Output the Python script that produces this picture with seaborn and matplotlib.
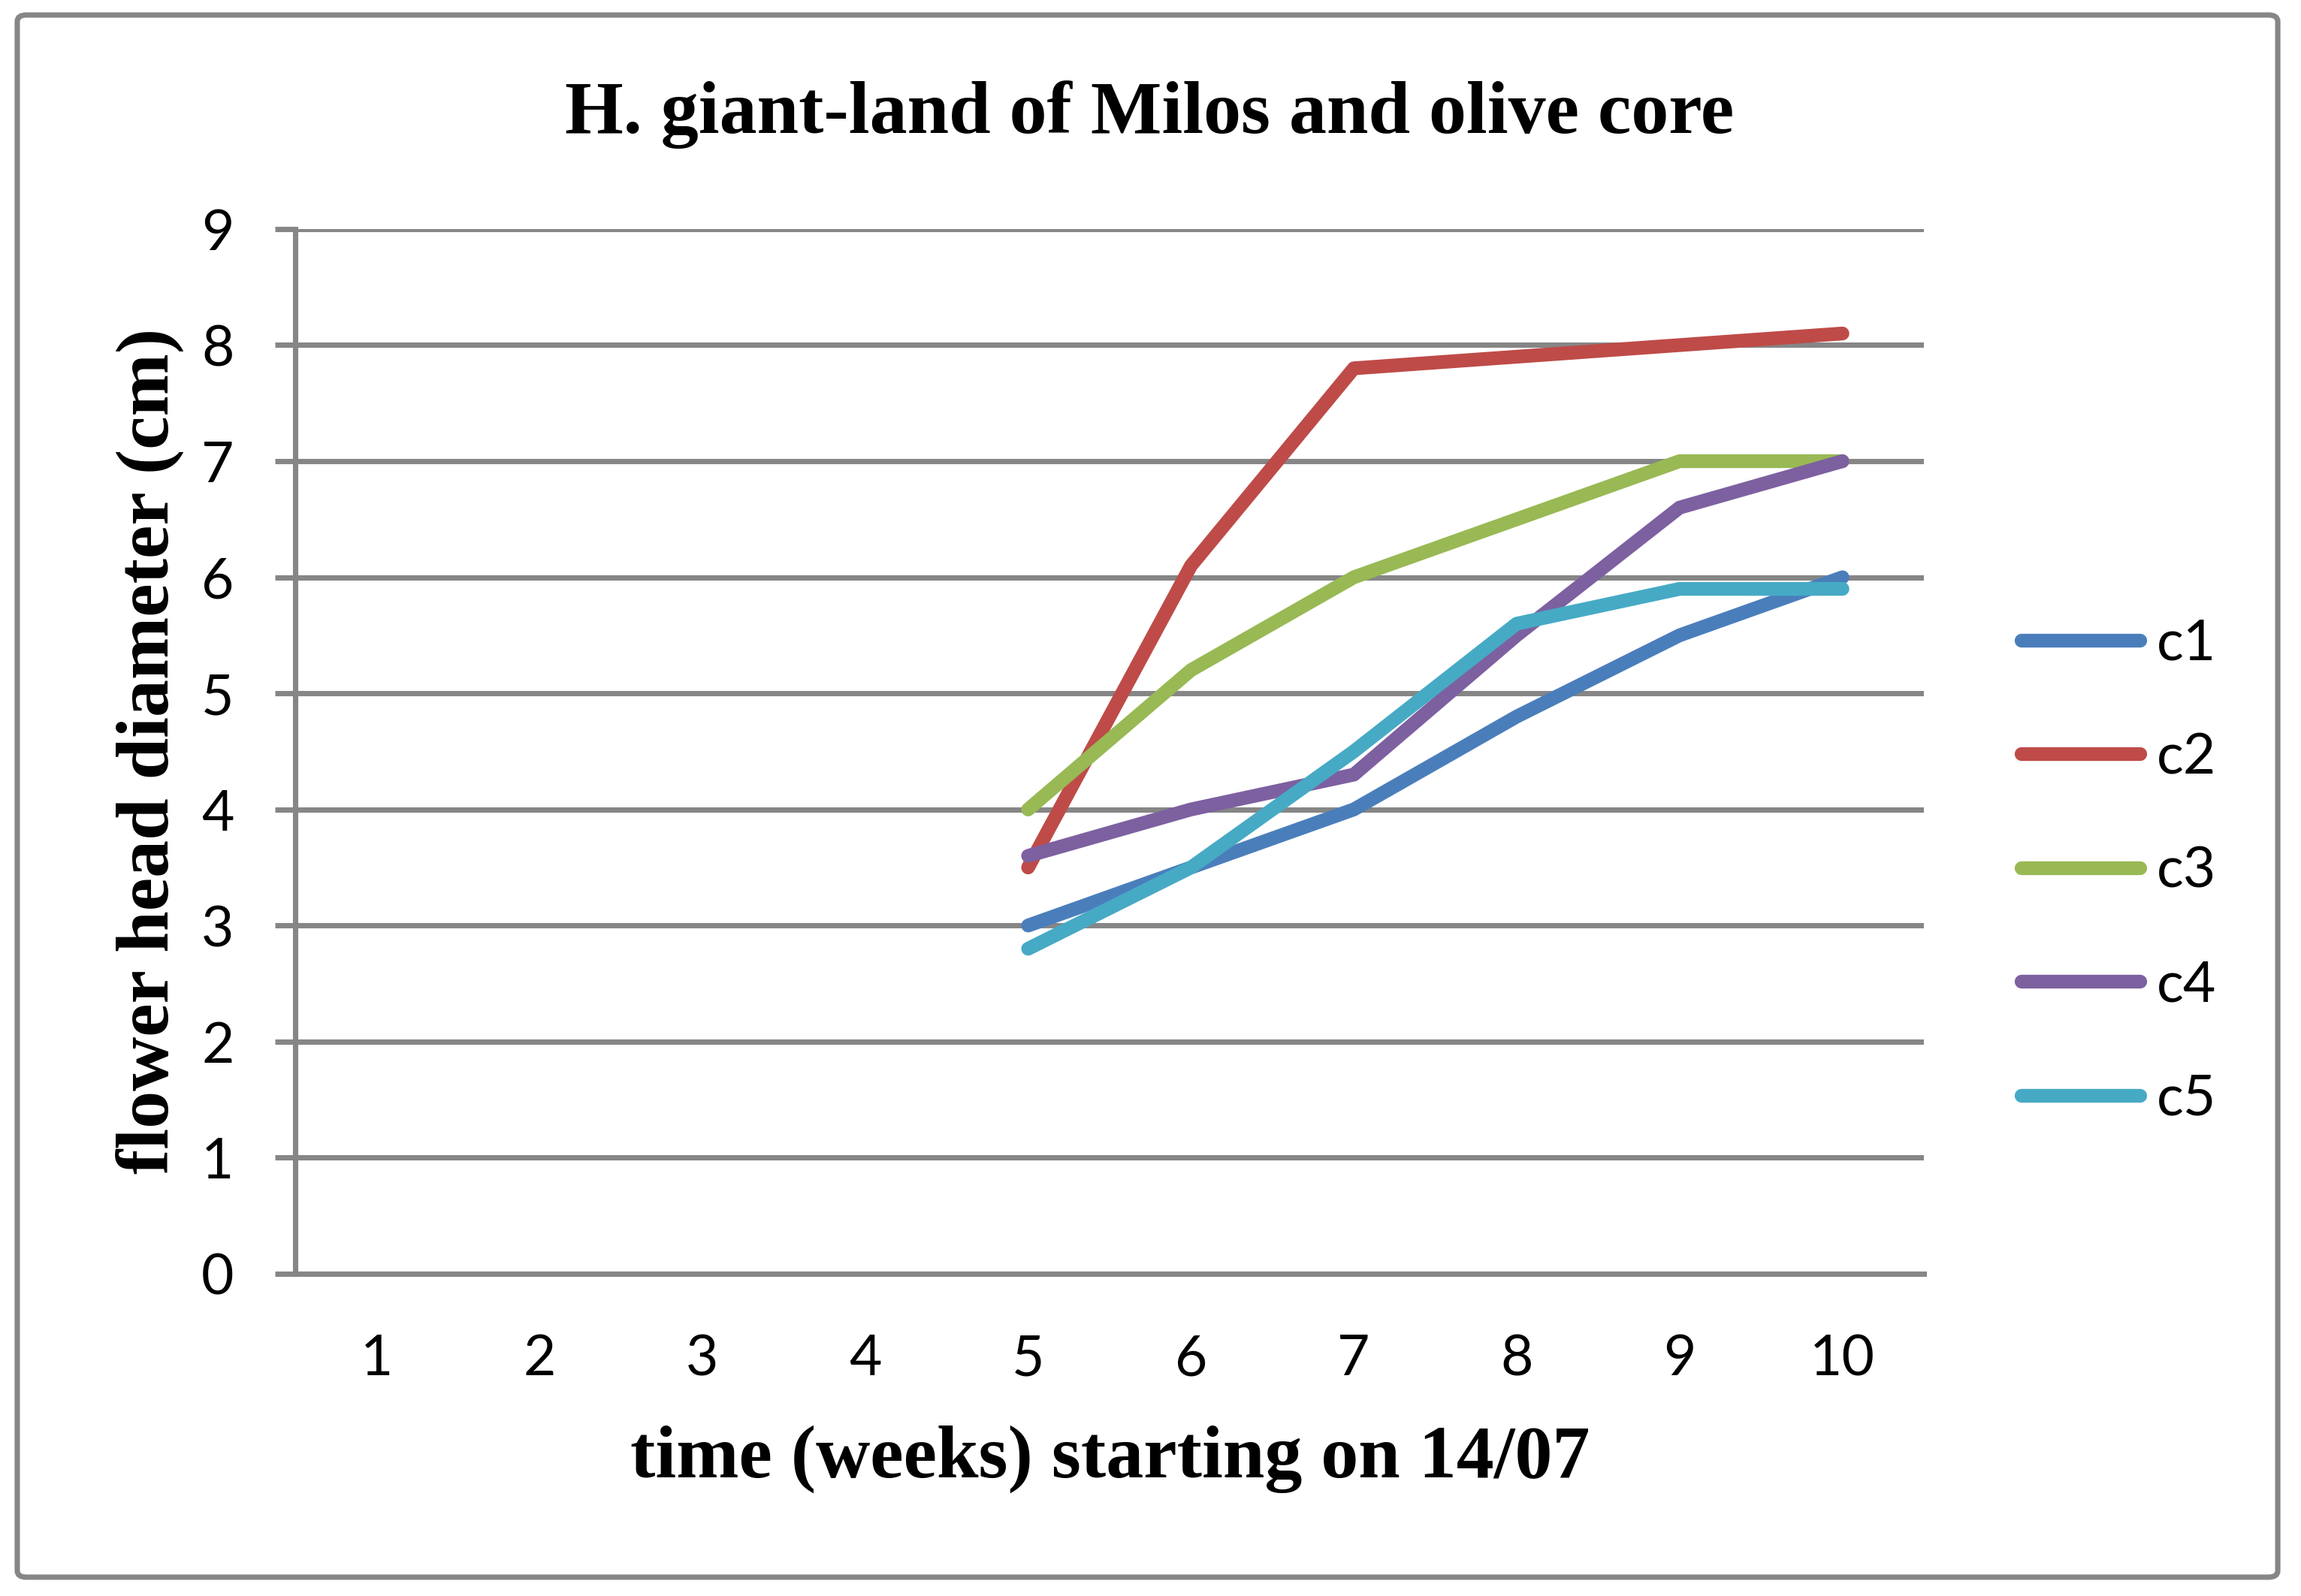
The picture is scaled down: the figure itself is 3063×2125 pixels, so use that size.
import numpy as np
import pandas as pd
import matplotlib
matplotlib.use('Agg')
import matplotlib.pyplot as plt
from matplotlib.patches import FancyBboxPatch
import seaborn as sns

# categories on the x axis (weeks) and the weeks that have measurements
week_labels = ['1', '2', '3', '4', '5', '6', '7', '8', '9', '10']
weeks = [5, 6, 7, 8, 9, 10]

c1 = [3.0, 3.5, 4.0, 4.8, 5.5, 6.0]
c2 = [3.5, 6.1, 7.8, 7.9, 8.0, 8.1]
c3 = [4.0, 5.2, 6.0, 6.5, 7.0, 7.0]
c4 = [3.6, 4.0, 4.3, 5.5, 6.6, 7.0]
c5 = [2.8, 3.5, 4.5, 5.6, 5.9, 5.9]

series = ['c1', 'c2', 'c3', 'c4', 'c5']
colors = ['#4A7EBB', '#BE4B48', '#98B954', '#7D60A0', '#46AAC5']

df = pd.DataFrame({'week': weeks * 5,
                   'diameter': c1 + c2 + c3 + c4 + c5,
                   'plant': [s for s in series for _ in weeks]})

sns.set_style('white')
plt.rcParams['font.family'] = ['Lato', 'DejaVu Sans']
plt.rcParams['text.color'] = 'black'
plt.rcParams['xtick.labelcolor'] = 'black'
plt.rcParams['ytick.labelcolor'] = 'black'
grid_col = '#868686'

fig = plt.figure(figsize=(3063 / 300, 2125 / 300), dpi=300)
ax = fig.add_axes([0.1283, 0.2019, 0.7078, 0.6546])

sns.lineplot(data=df, x='week', y='diameter', hue='plant', palette=colors,
             linewidth=4.4, solid_capstyle='round', solid_joinstyle='round',
             legend=False, ax=ax, zorder=3)
for line, s in zip(ax.lines, series):
    line.set_label(s)

ax.set_xlim(0.5, 10.5)
ax.set_ylim(0, 9)
ax.set_yticks(range(0, 10))
ax.set_xticks(range(1, 11))
ax.set_xticklabels(week_labels)
ax.set_xticks(np.arange(0.5, 11, 1), minor=True)
ax.tick_params(axis='x', which='major', length=0, pad=19, labelsize=18, labelcolor='black')
ax.tick_params(axis='x', which='minor', length=6.3, width=1.7, color=grid_col, direction='out')
ax.tick_params(axis='y', which='major', length=6.5, width=1.7, color=grid_col,
               direction='out', pad=13, labelsize=18, left=True, labelcolor='black')
ax.yaxis.grid(True, color=grid_col, linewidth=1.7)
ax.xaxis.grid(False)
for side in ['top', 'right']:
    ax.spines[side].set_visible(False)
for side in ['left', 'bottom']:
    ax.spines[side].set_color(grid_col)
    ax.spines[side].set_linewidth(1.7)
ax.set_xlabel('')
ax.set_ylabel('')

serif = dict(family=['Liberation Serif', 'DejaVu Serif'], weight='bold', size=24, color='black')
fig.text(0.4995, 0.928, 'H. giant-land of Milos and olive core', ha='center', va='center', **serif)
fig.text(0.0655, 0.5294, 'flower head diameter (cm)', rotation=90, ha='center', va='center', **serif)
fig.text(0.4825, 0.0858, 'time (weeks) starting on 14/07', ha='center', va='center', **serif)

leg = ax.legend(handles=ax.lines, labels=series, loc='center left',
                bbox_to_anchor=(0.8786, 0.454), bbox_transform=fig.transFigure,
                frameon=False, fontsize=18, handlelength=2.1, handletextpad=0.3,
                labelspacing=1.1, borderpad=0, borderaxespad=0)
for t in leg.get_texts():
    t.set_color('black')

fig.patches.append(FancyBboxPatch((0.0075, 0.0118), 0.9824, 0.9788,
                                  boxstyle='round,pad=0,rounding_size=0.004',
                                  transform=fig.transFigure, fill=False,
                                  edgecolor=grid_col, linewidth=1.7))

fig.savefig('out.png', dpi=300)
